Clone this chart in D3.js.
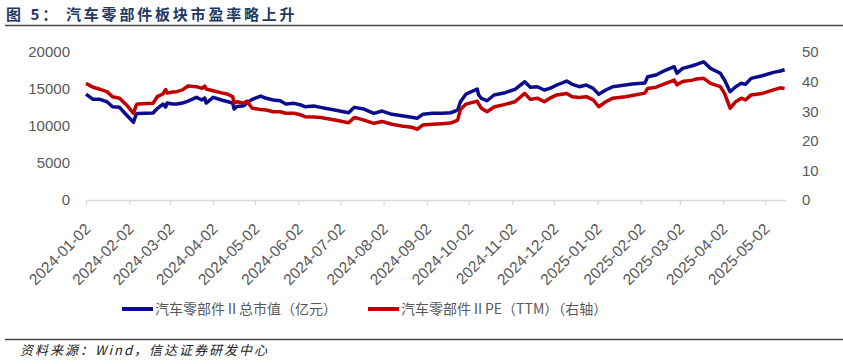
<!DOCTYPE html>
<html>
<head>
<meta charset="utf-8">
<script src="https://cdn.jsdelivr.net/npm/d3@7"></script>
<style>
  body { margin: 0; background: #fff; }
  svg text { font-family: "Liberation Sans", Arial, sans-serif; }
  .cn { font-family: "Noto Sans CJK SC", "Noto Sans", sans-serif; }
</style>
</head>
<body>
<div id="chart"></div>
<script>
// trading dates
var dates = [
  "2024-01-02","2024-01-07","2024-01-12","2024-01-17","2024-01-21","2024-01-26","2024-01-31","2024-02-05",
  "2024-02-07","2024-02-08","2024-02-19","2024-02-22","2024-02-26","2024-02-28","2024-02-29","2024-03-04",
  "2024-03-07","2024-03-11","2024-03-15","2024-03-21","2024-03-25","2024-03-27","2024-03-28","2024-04-02",
  "2024-04-08","2024-04-12","2024-04-16","2024-04-17","2024-04-19","2024-04-24","2024-04-26","2024-04-30",
  "2024-05-06","2024-05-10","2024-05-15","2024-05-20","2024-05-24","2024-05-30","2024-06-04","2024-06-07",
  "2024-06-13","2024-06-18","2024-06-21","2024-06-28","2024-07-08","2024-07-12","2024-07-19","2024-07-26",
  "2024-08-01","2024-08-08","2024-08-15","2024-08-22","2024-08-26","2024-08-30","2024-09-06","2024-09-13",
  "2024-09-19","2024-09-24","2024-09-26","2024-09-30","2024-10-08","2024-10-09","2024-10-11","2024-10-15",
  "2024-10-20","2024-10-28","2024-11-04","2024-11-11","2024-11-15","2024-11-20","2024-11-25","2024-11-29",
  "2024-12-04","2024-12-11","2024-12-15","2024-12-20","2024-12-25","2024-12-30","2025-01-03","2025-01-08",
  "2025-01-13","2025-01-22","2025-01-27","2025-02-05","2025-02-07","2025-02-13","2025-02-20","2025-02-26",
  "2025-02-28","2025-03-04","2025-03-11","2025-03-14","2025-03-19","2025-03-24","2025-03-31","2025-04-03",
  "2025-04-07","2025-04-11","2025-04-15","2025-04-18","2025-04-22","2025-04-30","2025-05-08","2025-05-13",
  "2025-05-16"
];

// 汽车零部件Ⅱ总市值（亿元）
var mktCap = [
  14320,13600,13600,13280,12600,12520,11480,10500,
  11620,11690,11750,12360,12970,12560,13100,12970,
  12970,13100,13370,13870,13510,13780,13100,13870,
  13510,13310,13100,12290,12630,12740,13100,13600,
  14050,13740,13510,13410,12970,13060,12830,12600,
  12700,12520,12390,12160,11790,12520,12290,11710,
  12020,11580,11390,11170,11040,11580,11710,11710,
  11790,12160,13280,14320,15000,14190,13740,13410,
  14190,14500,14960,15980,15230,15310,14860,15090,
  15540,16080,15630,15310,15540,15090,14280,14860,
  15310,15540,15670,15810,16660,16890,17560,18010,
  17120,17790,18140,18330,18680,17790,17120,16210,
  14630,15310,15770,15630,16440,16790,17250,17430,
  17600
];

// 汽车零部件ⅡPE（TTM）（右轴）
var pe = [
  39.4,38.1,37.4,36.6,34.9,34.4,32.1,29.3,
  32.1,32.4,32.7,34.9,35.8,37.3,36.1,36.5,
  36.6,37.2,38.5,38.3,37.7,38.5,37.5,36.9,
  36.2,35.8,34.9,32.7,33.2,32.7,33.4,31.0,
  30.6,30.4,29.8,29.8,29.3,29.3,28.7,28.1,
  28.0,27.9,27.6,27.0,26.1,27.9,27.0,25.9,
  26.5,25.6,25.0,24.6,23.9,25.3,25.6,25.8,
  26.0,27.0,30.6,32.4,33.4,32.4,31.0,29.8,
  31.4,32.3,33.2,36.0,34.0,34.4,33.2,34.4,
  35.5,36.0,34.9,34.6,34.9,33.8,31.5,33.2,
  34.4,34.9,35.3,36.1,37.7,38.1,39.4,40.5,
  38.9,40.0,40.5,40.9,41.1,39.4,38.3,36.0,
  31.0,33.2,34.4,33.8,35.5,36.0,37.2,37.9,
  37.7
];

var tickDates = [
  "2024-01-02","2024-02-02","2024-03-02","2024-04-02","2024-05-02","2024-06-02","2024-07-02",
  "2024-08-02","2024-09-02","2024-10-02","2024-11-02","2024-12-02","2025-01-02","2025-02-02",
  "2025-03-02","2025-04-02","2025-05-02"
];
var leftTicks = [0, 5000, 10000, 15000, 20000];
var rightTicks = [0, 10, 20, 30, 40, 50];

var titleHead = "图 5：";
var titleBody = "汽车零部件板块市盈率略上升";
var source = "资料来源：Wind，信达证券研发中心";
var seriesNames = ["汽车零部件Ⅱ总市值（亿元）", "汽车零部件ⅡPE（TTM）（右轴）"];
var colors = ["#0c0c8e", "#c00000"];

var W = 843, H = 364;
var parse = d3.timeParse("%Y-%m-%d");
var fmt = d3.timeFormat("%Y-%m-%d");

var svg = d3.select("#chart").append("svg")
    .attr("width", W)
    .attr("height", H);

// title + rules
var title = svg.append("text")
    .attr("class", "cn")
    .attr("y", 20)
    .attr("fill", "#1f3864")
    .style("font-size", "15px")
    .style("font-weight", "bold");
title.append("tspan").attr("x", 6).style("letter-spacing", "3px").text(titleHead);
title.append("tspan").attr("x", 66).style("letter-spacing", "2.8px").text(titleBody);

svg.append("line")
    .attr("x1", 5).attr("x2", W)
    .attr("y1", 25.5).attr("y2", 25.5)
    .attr("stroke", "#444").attr("stroke-width", 1.5);

svg.append("line")
    .attr("x1", 5).attr("x2", W)
    .attr("y1", 339.5).attr("y2", 339.5)
    .attr("stroke", "#444").attr("stroke-width", 1.5);

svg.append("text")
    .attr("class", "cn")
    .attr("x", 20)
    .attr("y", 355)
    .attr("fill", "#222")
    .style("font-size", "13px")
    .style("font-style", "italic")
    .style("letter-spacing", "2px")
    .text(source);

// scales
var x = d3.scaleTime()
    .domain([parse("2024-01-02"), parse("2025-05-17")])
    .range([86, 786]);
var yL = d3.scaleLinear().domain([0, 20000]).range([200, 52]);
var yR = d3.scaleLinear().domain([0, 50]).range([200, 52]);

// x axis
var xAxis = d3.axisBottom(x)
    .tickValues(tickDates.map(parse))
    .tickFormat(fmt)
    .tickSize(5)
    .tickSizeOuter(0);

var gx = svg.append("g")
    .attr("transform", "translate(0,200)")
    .call(xAxis);
gx.select(".domain").attr("stroke", "#d9d9d9").attr("stroke-width", 1.3);
gx.selectAll(".tick line").attr("stroke", "#d9d9d9").attr("stroke-width", 1.3);
gx.selectAll(".tick text")
    .attr("fill", "#595959")
    .style("font-size", "15.5px")
    .attr("text-anchor", "end")
    .attr("x", 0)
    .attr("y", 0)
    .attr("dx", 0)
    .attr("dy", 0)
    .attr("transform", "translate(5,30) rotate(-45)");

// left axis
var gl = svg.append("g")
    .attr("transform", "translate(78,0)")
    .call(d3.axisLeft(yL).tickValues(leftTicks).tickFormat(d3.format("d")).tickSize(0).tickPadding(0));
gl.select(".domain").remove();
gl.selectAll("text")
    .attr("fill", "#595959")
    .style("font-size", "15px")
    .attr("x", -8);

// right axis
var gr = svg.append("g")
    .attr("transform", "translate(794,0)")
    .call(d3.axisRight(yR).tickValues(rightTicks).tickSize(0).tickPadding(0));
gr.select(".domain").remove();
gr.selectAll("text")
    .attr("fill", "#595959")
    .style("font-size", "15px")
    .attr("x", 8);

// lines
var pts = dates.map(function(d, i) {
  return { date: parse(d), cap: mktCap[i], pe: pe[i] };
});

var capLine = d3.line()
    .x(function(d) { return x(d.date); })
    .y(function(d) { return yL(d.cap); });
var peLine = d3.line()
    .x(function(d) { return x(d.date); })
    .y(function(d) { return yR(d.pe); });

svg.append("path")
    .datum(pts)
    .attr("d", capLine)
    .attr("fill", "none")
    .attr("stroke", colors[0])
    .attr("stroke-width", 3.5)
    .attr("stroke-linejoin", "round");

svg.append("path")
    .datum(pts)
    .attr("d", peLine)
    .attr("fill", "none")
    .attr("stroke", colors[1])
    .attr("stroke-width", 3.5)
    .attr("stroke-linejoin", "round");

// legend
var legendX = [122, 368];
var lg = svg.selectAll(".lg")
    .data(seriesNames)
    .enter()
    .append("g")
    .attr("class", "lg")
    .attr("transform", function(d, i) { return "translate(" + legendX[i] + ",309)"; });

lg.append("line")
    .attr("x1", 0).attr("x2", 31)
    .attr("y1", 0).attr("y2", 0)
    .attr("stroke", function(d, i) { return colors[i]; })
    .attr("stroke-width", 4);

lg.append("text")
    .attr("class", "cn")
    .attr("x", 33)
    .attr("y", 5)
    .attr("fill", "#595959")
    .style("font-size", "14px")
    .text(function(d) { return d; });
</script>
</body>
</html>
